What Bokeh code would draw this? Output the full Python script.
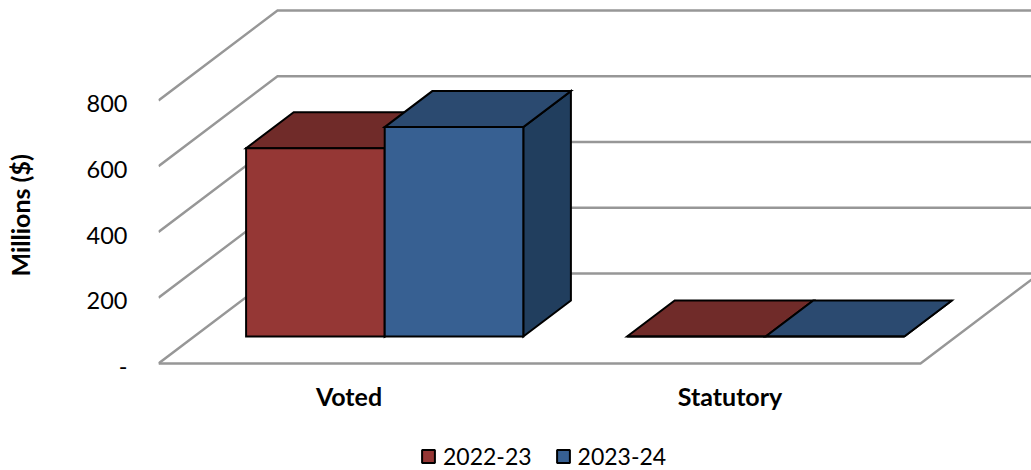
from bokeh.embed import file_html
from bokeh.layouts import column
from bokeh.models import FixedTicker, Legend, LegendItem, LinearAxis, Range1d, Title
from bokeh.plotting import figure
from bokeh.resources import INLINE

# Budget figures in millions of dollars
categories = ["Voted", "Statutory"]
years = ["2022-23", "2023-24"]
values_2022_23 = [573, 0]
values_2023_24 = [637, 0]
y_ticks = [0, 200, 400, 600, 800]
y_tick_labels = ["-", "200", "400", "600", "800"]

FONT = "Lato"
GRID = "#979797"
FRONT = ["#953735", "#376092"]
TOP = ["#702B29", "#2B4A70"]
SIDE = ["#5A2321", "#213E5E"]

# Oblique projection: how far the full chart depth shifts a point, in data units
PX_X = 381.0                 # pixels per category
PX_Y = 263.0 / 800.0         # pixels per million
DEPTH_X = 119.0 / PX_X
DEPTH_Y = 90.0 / PX_Y
BAR_WIDTH = 138.6 / PX_X
Z_FRONT, Z_BACK = 0.3, 0.7
Y_MIN = -10.0 / PX_Y         # room under the floor so the zero tick stays in range
Y_MAX = 363.0 / PX_Y
X_MAX = (1031.0 - 158.0) / PX_X
TICK_TEXT_DROP = 3.0 / PX_Y  # value labels sit slightly below their gridlines


def project(x, y, z):
    return x + z * DEPTH_X, y + z * DEPTH_Y


p = figure(
    width=1031, height=430, output_backend="svg", toolbar_location=None,
    x_range=Range1d(0, X_MAX), y_range=Range1d(Y_MIN, Y_MAX), y_axis_location=None,
    min_border_left=158, min_border_right=0, min_border_top=0, min_border_bottom=57,
    outline_line_color=None, background_fill_color="white",
)
p.grid.visible = False
p.extra_y_ranges = {"tick_text": Range1d(Y_MIN + TICK_TEXT_DROP, Y_MAX + TICK_TEXT_DROP)}

# Walls and floor of the chart box
grid_xs, grid_ys = [], []
for tick in y_ticks:
    x0, y0 = project(0, tick, 0)
    x1, y1 = project(0, tick, 1)
    x2, y2 = project(len(categories), tick, 1)
    grid_xs.append([x0, x1, x2])
    grid_ys.append([y0, y1, y2])
fx0, fy0 = project(0, 0, 0)
fx1, fy1 = project(len(categories), 0, 0)
fx2, fy2 = project(len(categories), 0, 1)
grid_xs.append([fx0, fx1, fx2])
grid_ys.append([fy0, fy1, fy2])
p.multi_line(grid_xs, grid_ys, line_color=GRID, line_width=2.4, line_join="miter")


def face(corners):
    pts = [project(*c) for c in corners]
    return [q[0] for q in pts], [q[1] for q in pts]


series = [values_2022_23, values_2023_24]
style = dict(line_color="black", line_width=2, line_join="miter")
for cat_index in range(len(categories)):
    centre = cat_index + 0.5
    for s, vals in enumerate(series):
        v = vals[cat_index]
        left = centre - BAR_WIDTH + s * BAR_WIDTH
        right = left + BAR_WIDTH
        side = face([(right, 0, Z_FRONT), (right, 0, Z_BACK), (right, v, Z_BACK), (right, v, Z_FRONT)])
        top = face([(left, v, Z_FRONT), (right, v, Z_FRONT), (right, v, Z_BACK), (left, v, Z_BACK)])
        front = face([(left, 0, Z_FRONT), (right, 0, Z_FRONT), (right, v, Z_FRONT), (left, v, Z_FRONT)])
        p.patch(*side, fill_color=SIDE[s], **style)
        p.patch(*top, fill_color=TOP[s], **style)
        p.patch(*front, fill_color=FRONT[s], **style)

yaxis = LinearAxis(y_range_name="tick_text")
yaxis.ticker = FixedTicker(ticks=y_ticks)
yaxis.major_label_overrides = dict(zip(y_ticks, y_tick_labels))
yaxis.axis_line_color = None
yaxis.major_tick_line_color = None
yaxis.minor_tick_line_color = None
yaxis.major_label_standoff = 25
yaxis.major_label_text_font = FONT
yaxis.major_label_text_font_size = "23.5px"
yaxis.major_label_text_color = "black"
p.add_layout(yaxis, "left")

xaxis = p.xaxis[0]
xaxis.ticker = FixedTicker(ticks=[i + 0.5 for i in range(len(categories))])
xaxis.major_label_overrides = {i + 0.5: c for i, c in enumerate(categories)}
xaxis.axis_line_color = None
xaxis.major_tick_line_color = None
xaxis.minor_tick_line_color = None
xaxis.major_label_standoff = 1
xaxis.major_label_text_font = FONT
xaxis.major_label_text_font_size = "25px"
xaxis.major_label_text_font_style = "bold"
xaxis.major_label_text_color = "black"

# Blank panel that pushes the value-axis title out towards the page edge
p.add_layout(Title(text=" ", standoff=15, text_font=FONT, text_font_size="25px"), "left")
# The value-axis title sits below the frame's centre, so it gets its own offset title
p.add_layout(Title(
    text="Millions ($)", align="left", offset=97, standoff=0, vertical_align="top",
    text_font=FONT, text_font_size="25px", text_font_style="bold", text_color="black",
), "left")

# Legend strip below the chart; its frame lines up with the chart frame
strip = figure(
    width=1031, height=40, output_backend="svg", toolbar_location=None,
    x_range=Range1d(0, 1), y_range=Range1d(0, 1), x_axis_type=None, y_axis_type=None,
    min_border=0, outline_line_color=None,
)
strip.grid.visible = False
legend_items = []
for s, year in enumerate(years):
    # Patch outside the strip's range: only its legend swatch is ever visible
    swatch = strip.patch([2, 3, 3], [2, 2, 3], fill_color=FRONT[s], line_color="black", line_width=2)
    legend_items.append(LegendItem(label=year, renderers=[swatch]))
strip.add_layout(Legend(
    items=legend_items, orientation="horizontal", location=(262, 0),
    border_line_color=None, background_fill_alpha=0,
    glyph_width=16, glyph_height=16, label_standoff=7, spacing=23,
    label_text_font=FONT, label_text_font_size="23px", label_text_color="black",
    margin=0, padding=4,
))

open("out.html", "w").write(file_html(column(p, strip, spacing=0), INLINE))
